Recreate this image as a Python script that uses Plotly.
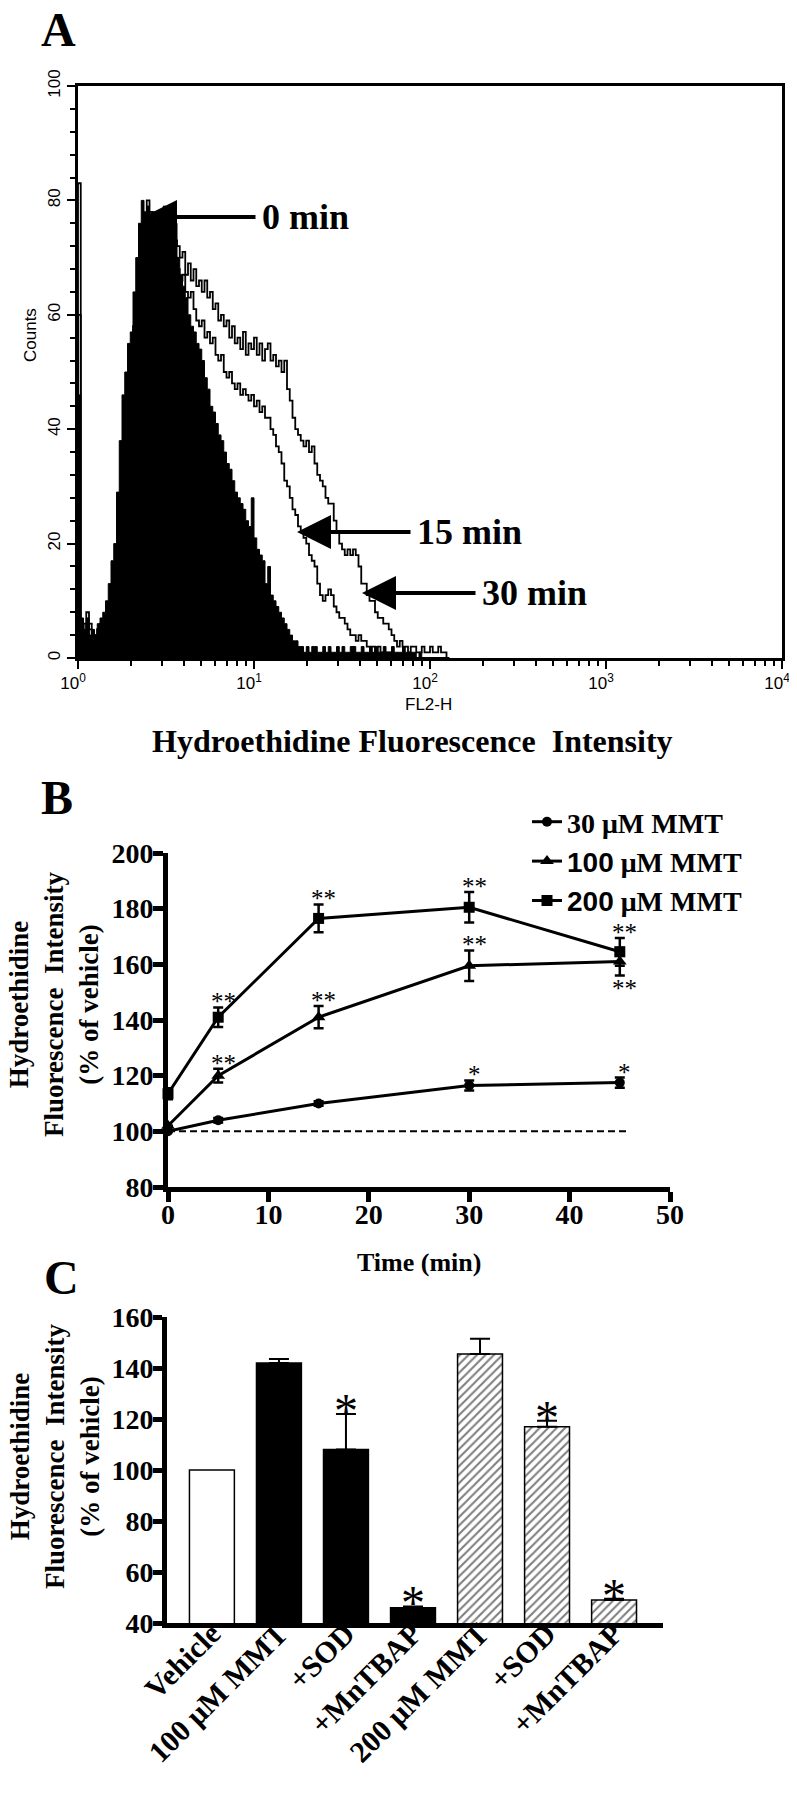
import numpy as np
import plotly.graph_objects as go

W, H = 797, 1800
OFF = 8  # default page margin around the plot div
FIG_W, FIG_H = W - OFF, H - OFF
SERIF = "Liberation Serif"
SANS = "Liberation Sans"

# ---- Panel A: FL2-H histograms (counts per channel, 64 channels per decade from 10^0)
CHANNELS_PER_DECADE = 64
COUNTS_0MIN = [
    46, 7, 5, 7, 4, 5, 4, 6, 7, 8,
    10, 13, 17, 20, 29, 38, 46, 50, 55, 57,
    64, 70, 76, 80, 78, 79, 77, 78, 76, 78,
    77, 79, 77, 78, 76, 76, 70, 67, 65, 63,
    60, 58, 57, 55, 54, 52, 49, 47, 44, 43,
    41, 39, 38, 36, 34, 33, 31, 29, 28, 27,
    26, 24, 23, 28, 21, 19, 18, 17, 13, 16,
    11, 10, 9, 8, 7, 6, 5, 4, 3, 3,
    2, 2, 1, 2, 1, 2, 2, 1, 1, 2,
    1, 2, 1, 1, 2, 1, 2, 1, 1, 2,
    2, 1, 1, 2, 1, 1, 2, 1, 2, 1,
    1, 2, 1, 1, 2, 1, 1, 1, 2, 1,
    1, 1, 1, 0, 1, 0, 0, 0, 0, 0,
    0, 0, 0, 0, 0,
]
COUNTS_15MIN = [
    60, 5, 6, 4, 6, 3, 4, 5, 4, 6,
    6, 8, 10, 14, 19, 26, 34, 42, 47, 52,
    58, 62, 68, 73, 76, 74, 78, 73, 75, 72,
    76, 74, 71, 74, 72, 70, 68, 66, 67, 64,
    63, 64, 61, 59, 58, 59, 56, 57, 55, 56,
    53, 52, 53, 50, 49, 50, 48, 47, 48, 46,
    47, 46, 45, 46, 44, 45, 43, 44, 42, 42,
    40, 39, 37, 36, 34, 31, 30, 28, 26, 25,
    23, 22, 21, 20, 18, 17, 16, 13, 11, 10,
    11, 12, 11, 9, 8, 7, 7, 6, 5, 4,
    4, 3, 4, 3, 3, 2, 2, 2, 1, 2,
    1, 1, 1, 1, 0, 0, 0, 0, 0, 0,
    0, 0, 0, 0, 0, 0, 0, 0, 0, 0,
    0, 0, 0, 0, 0,
]
COUNTS_30MIN = [
    83, 6, 4, 8, 5, 4, 3, 5, 6, 4,
    5, 7, 9, 12, 16, 22, 30, 38, 45, 50,
    56, 60, 66, 72, 74, 80, 75, 72, 74, 76,
    73, 76, 72, 75, 76, 73, 72, 70, 71, 67,
    69, 66, 68, 65, 66, 64, 66, 63, 64, 61,
    62, 59, 60, 58, 59, 56, 58, 55, 56, 54,
    57, 53, 55, 54, 56, 53, 55, 52, 54, 55,
    52, 53, 51, 52, 50, 52, 47, 45, 42, 40,
    39, 38, 37, 38, 36, 37, 34, 32, 31, 30,
    28, 27, 27, 24, 22, 20, 19, 18, 19, 18,
    19, 18, 16, 13, 13, 11, 10, 10, 8, 7,
    7, 6, 6, 5, 4, 3, 2, 3, 2, 2,
    1, 2, 2, 1, 1, 2, 1, 1, 2, 1,
    1, 2, 1, 1, 0,
]

# ---- Panel B: time course
TIME_MIN = [0, 5, 15, 30, 45]
MMT30 = [100, 104, 110, 116.5, 117.5]
MMT30_ERR = [0, 0.8, 0.8, 1.8, 1.8]
MMT100 = [102, 120, 141, 159.5, 161]
MMT100_ERR = [0, 2.5, 4, 5.5, 5]
MMT200 = [113.5, 141, 176.5, 180.5, 164.5]
MMT200_ERR = [2, 3.5, 5, 5.5, 5]
SIG30 = ["", "", "", "*", "*"]
SIG100 = ["", "**", "**", "**", "**"]
SIG200 = ["", "**", "**", "**", "**"]

# ---- Panel C: bar chart
C_LABELS = ["Vehicle", "100 μM MMT", "+SOD", "+MnTBAP", "200 μM MMT", "+SOD", "+MnTBAP"]
C_VALUES = [100, 142, 108, 46, 145.5, 117, 49]
C_ERR = [0, 1.5, 14, 0.5, 6, 2.3, 0.5]
C_SIG = ["", "", "*", "*", "", "*", "*"]


def px(x):
    return (x - OFF) / FIG_W


def py(y):
    return 1 - (y - OFF) / FIG_H


def step_xy(counts):
    edges = 10 ** (np.arange(len(counts) + 1) / CHANNELS_PER_DECADE)
    xs = [edges[0]] + list(edges[:-1]) + [edges[-1], edges[-1]]
    ys = [0] + list(counts) + [counts[-1], 0]
    return xs, ys


def bold_serif(size):
    return dict(family=SERIF, size=size, color="black", weight="bold")


def label(x, y, text, font, **kw):
    d = dict(x=px(x), y=py(y), xref="paper", yref="paper", text=text, showarrow=False,
             xanchor="center", yanchor="middle", font=font)
    d.update(kw)
    return d


fig = go.Figure()

# Panel A
x0, y0 = step_xy(COUNTS_0MIN)
fig.add_trace(go.Scatter(x=x0, y=y0, mode="lines", line=dict(color="black", width=1, shape="hv"),
                         fill="tozeroy", fillcolor="black", showlegend=False, xaxis="x", yaxis="y"))
for counts in (COUNTS_15MIN, COUNTS_30MIN):
    xs, ys = step_xy(counts)
    fig.add_trace(go.Scatter(x=xs, y=ys, mode="lines", line=dict(color="black", width=1.8, shape="hv"),
                             showlegend=False, xaxis="x", yaxis="y"))

# Panel B
fig.add_trace(go.Scatter(x=[0, 46], y=[100, 100], mode="lines",
                         line=dict(color="black", width=2, dash="7px,4px"),
                         showlegend=False, xaxis="x2", yaxis="y2"))
series_b = [
    ("30", SERIF, MMT30, MMT30_ERR, "circle", 10),
    ("100", SANS, MMT100, MMT100_ERR, "triangle-up", 12),
    ("200", SANS, MMT200, MMT200_ERR, "square", 11),
]
for num, fam, vals, errs, sym, size in series_b:
    fig.add_trace(go.Scatter(
        x=TIME_MIN, y=vals, mode="lines+markers",
        name=f"<span style='font-family:{fam}'>{num}</span> μM MMT",
        line=dict(color="black", width=3),
        marker=dict(symbol=sym, size=size, color="black"),
        error_y=dict(type="data", array=errs, color="black", thickness=2.5, width=5),
        cliponaxis=False, xaxis="x2", yaxis="y2",
    ))

# Panel C
fig.add_trace(go.Bar(
    x=[0], y=[C_VALUES[0]], width=0.67,
    marker=dict(color="white", line=dict(color="black", width=1.5)),
    showlegend=False, xaxis="x3", yaxis="y3"))
fig.add_trace(go.Bar(
    x=[1, 2, 3], y=C_VALUES[1:4], width=0.67,
    marker=dict(color="black", line=dict(color="black", width=1.5)),
    error_y=dict(type="data", array=C_ERR[1:4], arrayminus=[0, 0, 0], symmetric=False,
                 color="black", thickness=2, width=10),
    showlegend=False, xaxis="x3", yaxis="y3"))
fig.add_trace(go.Bar(
    x=[4, 5, 6], y=C_VALUES[4:7], width=0.67,
    marker=dict(color="white", line=dict(color="black", width=1.5),
                pattern=dict(shape="/", fgcolor="black", bgcolor="white", size=6, solidity=0.35)),
    error_y=dict(type="data", array=C_ERR[4:7], arrayminus=[0, 0, 0], symmetric=False,
                 color="black", thickness=2, width=10),
    showlegend=False, xaxis="x3", yaxis="y3"))

annotations = []

# significance marks, panel B
for vals, errs, sigs, below_last in ((MMT30, MMT30_ERR, SIG30, False),
                                     (MMT100, MMT100_ERR, SIG100, True),
                                     (MMT200, MMT200_ERR, SIG200, False)):
    for i, s in enumerate(sigs):
        if not s:
            continue
        below = below_last and i == len(sigs) - 1
        annotations.append(dict(
            x=TIME_MIN[i], y=vals[i] - errs[i] if below else vals[i] + errs[i],
            xref="x2", yref="y2", text=s, showarrow=False, xanchor="center",
            yanchor="top" if below else "bottom", yshift=2 if below else -10, xshift=5,
            font=dict(family=SERIF, size=25, color="black")))

# significance marks, panel C
for i, s in enumerate(C_SIG):
    if s:
        annotations.append(dict(
            x=i, y=C_VALUES[i] + C_ERR[i], xref="x3", yref="y3", text=s, showarrow=False,
            xanchor="center", yanchor="bottom", yshift=-25,
            font=dict(family=SERIF, size=48, color="black")))

# panel letters and titles
for letter, lx, ly in (("A", 58, 29), ("B", 57, 797), ("C", 61, 1277)):
    annotations.append(label(lx, ly, letter, bold_serif(48)))
axis_title = "Hydroethidine<br>Fluorescence\u00a0 Intensity<br>(% of vehicle)"
annotations += [
    label(412, 741, "Hydroethidine Fluorescence\u00a0 Intensity", bold_serif(32)),
    label(428, 705, "FL2-H", dict(family=SANS, size=17, color="black")),
    label(30, 335, "Counts", dict(family=SANS, size=17, color="black"), textangle=-90),
    label(54, 1005, axis_title, bold_serif(27), textangle=-90),
    label(55, 1457, axis_title, bold_serif(27), textangle=-90),
    label(419, 1262, "Time (min)", bold_serif(26)),
]

# arrows for histogram labels: arrow runs from the label box to the tip
for text, tip_x, tip_y, text_x, text_w in (("0 min", 143, 217, 262, 87),
                                           ("15 min", 297, 532, 417, 105),
                                           ("30 min", 362, 593, 482, 105)):
    annotations.append(dict(x=px(tip_x), y=py(tip_y), xref="paper", yref="paper", text=text,
                            showarrow=True, arrowhead=2, arrowwidth=4, arrowsize=1.7,
                            arrowcolor="black", ax=text_x + text_w / 2 - tip_x, ay=0,
                            borderpad=6, font=bold_serif(36)))

minor_log = [m * 10 ** k for k in range(4) for m in range(2, 10)]
tick_b = dict(family=SERIF, size=28, color="black", weight="bold")
common = dict(showgrid=False, zeroline=False, automargin=False, linecolor="black", tickcolor="black")

fig.update_layout(
    width=FIG_W, height=FIG_H,
    margin=dict(l=0, r=0, t=0, b=0),
    paper_bgcolor="white", plot_bgcolor="white",
    barmode="overlay",
    annotations=annotations,
    legend=dict(x=px(527), y=py(797), xanchor="left", yanchor="top",
                font=bold_serif(28), bgcolor="rgba(0,0,0,0)", tracegroupgap=0),
    xaxis=dict(domain=[px(78), px(782)], anchor="y", type="log", range=[0, 4],
               tickvals=[1, 10, 100, 1000, 10000],
               ticktext=["10<sup>0</sup>", "10<sup>1</sup>", "10<sup>2</sup>", "10<sup>3</sup>", "10<sup>4</sup>"],
               ticks="outside", ticklen=8, tickwidth=2, ticklabeloverflow="allow", ticklabelshift=-5,
               minor=dict(tickvals=minor_log, ticks="outside", ticklen=5, tickwidth=2, tickcolor="black"),
               showline=True, linewidth=2.5, mirror=True,
               tickfont=dict(family=SANS, size=17, color="black"), **common),
    yaxis=dict(domain=[py(658), py(86)], anchor="x", range=[0, 100], tickvals=[0, 20, 40, 60, 80, 100],
               tickangle=-90, ticks="outside", ticklen=8, tickwidth=2,
               minor=dict(dtick=4, ticks="outside", ticklen=5, tickwidth=2, tickcolor="black"),
               showline=True, linewidth=2.5, mirror=True,
               tickfont=dict(family=SANS, size=17, color="black"), **common),
    xaxis2=dict(domain=[px(168), px(670)], anchor="y2", range=[0, 50], tickvals=[0, 10, 20, 30, 40, 50],
                ticks="outside", ticklen=10, tickwidth=5, showline=True, linewidth=5,
                ticklabelstandoff=-12, tickfont=tick_b, **common),
    yaxis2=dict(domain=[py(1187), py(853)], anchor="x2", range=[80, 200],
                tickvals=[80, 100, 120, 140, 160, 180, 200],
                ticks="outside", ticklen=10, tickwidth=5, showline=True, linewidth=5,
                ticklabelstandoff=-6, tickfont=tick_b, **common),
    xaxis3=dict(domain=[px(167), px(663)], anchor="y3", range=[-0.67, 6.73],
                tickvals=list(range(len(C_LABELS))), ticktext=C_LABELS, tickangle=-45, ticks="",
                showline=True, linewidth=5, ticklabelstandoff=-24,
                tickfont=dict(family=SERIF, size=30, color="black", weight="bold"), **common),
    yaxis3=dict(domain=[py(1623), py(1317)], anchor="x3", range=[40, 160],
                tickvals=[40, 60, 80, 100, 120, 140, 160],
                ticks="outside", ticklen=9, tickwidth=5, showline=True, linewidth=5,
                ticklabelstandoff=-6, tickfont=tick_b, **common),
)

fig.write_html("out.html")
